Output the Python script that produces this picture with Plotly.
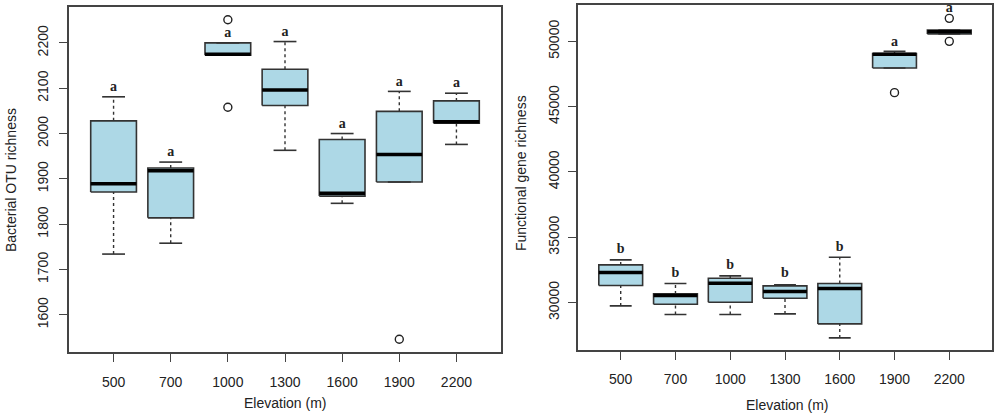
import plotly.graph_objects as go
from plotly.subplots import make_subplots

# Elevation groups (x categories)
elevations = ["500", "700", "1000", "1300", "1600", "1900", "2200"]

# Bacterial OTU richness: box stats
otu_low = [1734, 1758, 2173, 1963, 1846, 1893, 1976]
otu_q1 = [1871, 1814, 2173, 2062, 1862, 1893, 2023]
otu_med = [1889, 1918, 2175, 2096, 1868, 1954, 2026]
otu_q3 = [2028, 1924, 2200, 2142, 1987, 2049, 2072]
otu_high = [2081, 1937, 2200, 2203, 2000, 2093, 2089]
otu_out_grp = ["1000", "1000", "1900"]
otu_out_val = [2251, 2058, 1546]
otu_letters = ["a", "a", "a", "a", "a", "a", "a"]
otu_letter_y = [2101, 1959, 2221, 2224, 2021, 2113, 2111]
otu_ticks = [1600, 1700, 1800, 1900, 2000, 2100, 2200]

# Functional gene richness
gene_low = [29745, 29082, 29082, 29133, 27296, 47959, 50561]
gene_q1 = [31301, 29872, 30026, 30332, 28368, 47959, 50561]
gene_med = [32296, 30536, 31480, 30842, 31071, 49005, 50740]
gene_q3 = [32883, 30663, 31862, 31276, 31454, 49056, 50867]
gene_high = [33265, 31454, 32041, 31352, 33469, 49235, 50867]
gene_out_grp = ["1900", "2200", "2200"]
gene_out_val = [46071, 51760, 50000]
gene_letters = ["b", "b", "b", "b", "b", "a", "a"]
gene_letter_y = [34031, 32245, 32831, 32245, 34235, 49949, 52525]
gene_ticks = [30000, 35000, 40000, 45000, 50000]

BOX_FILL = "#add8e6"
EDGE = "#333333"
BOX_W = 0.8
CAP_W = 0.4


def add_boxplot(fig, col, low, q1, med, q3, high, out_grp, out_val, letters, letter_y):
    pos = list(range(1, len(elevations) + 1))
    # boxes
    for p, a, b in zip(pos, q1, q3):
        h = BOX_W / 2
        fig.add_trace(go.Scatter(
            x=[p - h, p + h, p + h, p - h, p - h], y=[a, a, b, b, a],
            mode="lines", fill="toself", fillcolor=BOX_FILL,
            line=dict(color=EDGE, width=1.6), hoverinfo="skip"), row=1, col=col)
    # dashed whiskers
    wx, wy = [], []
    for p, lo, a, b, hi in zip(pos, low, q1, q3, high):
        wx += [p, p, None, p, p, None]
        wy += [lo, a, None, b, hi, None]
    fig.add_trace(go.Scatter(x=wx, y=wy, mode="lines",
                             line=dict(color=EDGE, width=1.4, dash="3px,3px"),
                             hoverinfo="skip"), row=1, col=col)
    # staples
    cx, cy = [], []
    for p, lo, hi in zip(pos, low, high):
        cx += [p - CAP_W / 2, p + CAP_W / 2, None, p - CAP_W / 2, p + CAP_W / 2, None]
        cy += [lo, lo, None, hi, hi, None]
    fig.add_trace(go.Scatter(x=cx, y=cy, mode="lines",
                             line=dict(color=EDGE, width=1.6), hoverinfo="skip"),
                  row=1, col=col)
    # medians
    mx, my = [], []
    for p, m in zip(pos, med):
        mx += [p - BOX_W / 2, p + BOX_W / 2, None]
        my += [m, m, None]
    fig.add_trace(go.Scatter(x=mx, y=my, mode="lines",
                             line=dict(color="black", width=3.5), hoverinfo="skip"),
                  row=1, col=col)
    # outliers
    ox = [elevations.index(g) + 1 for g in out_grp]
    fig.add_trace(go.Scatter(x=ox, y=out_val, mode="markers",
                             marker=dict(symbol="circle-open", size=8,
                                         color="#222222", line=dict(width=1.4))),
                  row=1, col=col)
    # significance letters
    fig.add_trace(go.Scatter(x=pos, y=letter_y, mode="text", text=letters,
                             textfont=dict(family="Liberation Serif", size=14,
                                           color="#222222"),
                             texttemplate="<b>%{text}</b>", hoverinfo="skip"),
                  row=1, col=col)


fig = make_subplots(rows=1, cols=2)

add_boxplot(fig, 1, otu_low, otu_q1, otu_med, otu_q3, otu_high,
            otu_out_grp, otu_out_val, otu_letters, otu_letter_y)
add_boxplot(fig, 2, gene_low, gene_q1, gene_med, gene_q3, gene_high,
            gene_out_grp, gene_out_val, gene_letters, gene_letter_y)

axis_style = dict(showline=True, mirror=True, linecolor="#444444", linewidth=1.5,
                  showgrid=False, zeroline=False, ticks="outside", ticklen=8,
                  tickcolor="#444444", tickwidth=1.3,
                  tickfont=dict(family="Liberation Sans", size=14, color="#222222"))

fig.update_xaxes(**axis_style, range=[0.22, 7.78],
                 tickvals=list(range(1, 8)), ticktext=elevations, ticklabelstandoff=8)
fig.update_xaxes(domain=[0.069, 0.501], row=1, col=1)
fig.update_xaxes(domain=[0.578, 0.992], row=1, col=2)

fig.update_yaxes(**axis_style, tickangle=-90)
fig.update_yaxes(domain=[0.158, 0.983], range=[1518, 2279], ticklabelstandoff=6,
                 tickvals=otu_ticks, ticktext=[str(t) for t in otu_ticks], row=1, col=1)
fig.update_yaxes(domain=[0.163, 0.988], range=[26378, 52781], ticklabelstandoff=4,
                 tickvals=gene_ticks, ticktext=[str(t) for t in gene_ticks], row=1, col=2)

title_font = dict(family="Liberation Sans", size=14, color="#222222")
titles = [("Elevation (m)", 285, 403, 0), ("Elevation (m)", 787, 405, 0),
          ("Bacterial OTU richness", 11, 180, -90),
          ("Functional gene richness", 521, 173, -90)]
for txt, px_x, px_y, ang in titles:
    fig.add_annotation(text=txt, x=px_x / 1000, y=1 - px_y / 418, xref="paper",
                       yref="paper", xanchor="center", yanchor="middle",
                       showarrow=False, textangle=ang, font=title_font)

fig.update_layout(width=1000, height=418, margin=dict(l=0, r=0, t=0, b=0),
                  plot_bgcolor="white", paper_bgcolor="white", showlegend=False)

fig.write_html("out.html", config={"displayModeBar": False},
               post_script="document.body.style.margin='0';")
